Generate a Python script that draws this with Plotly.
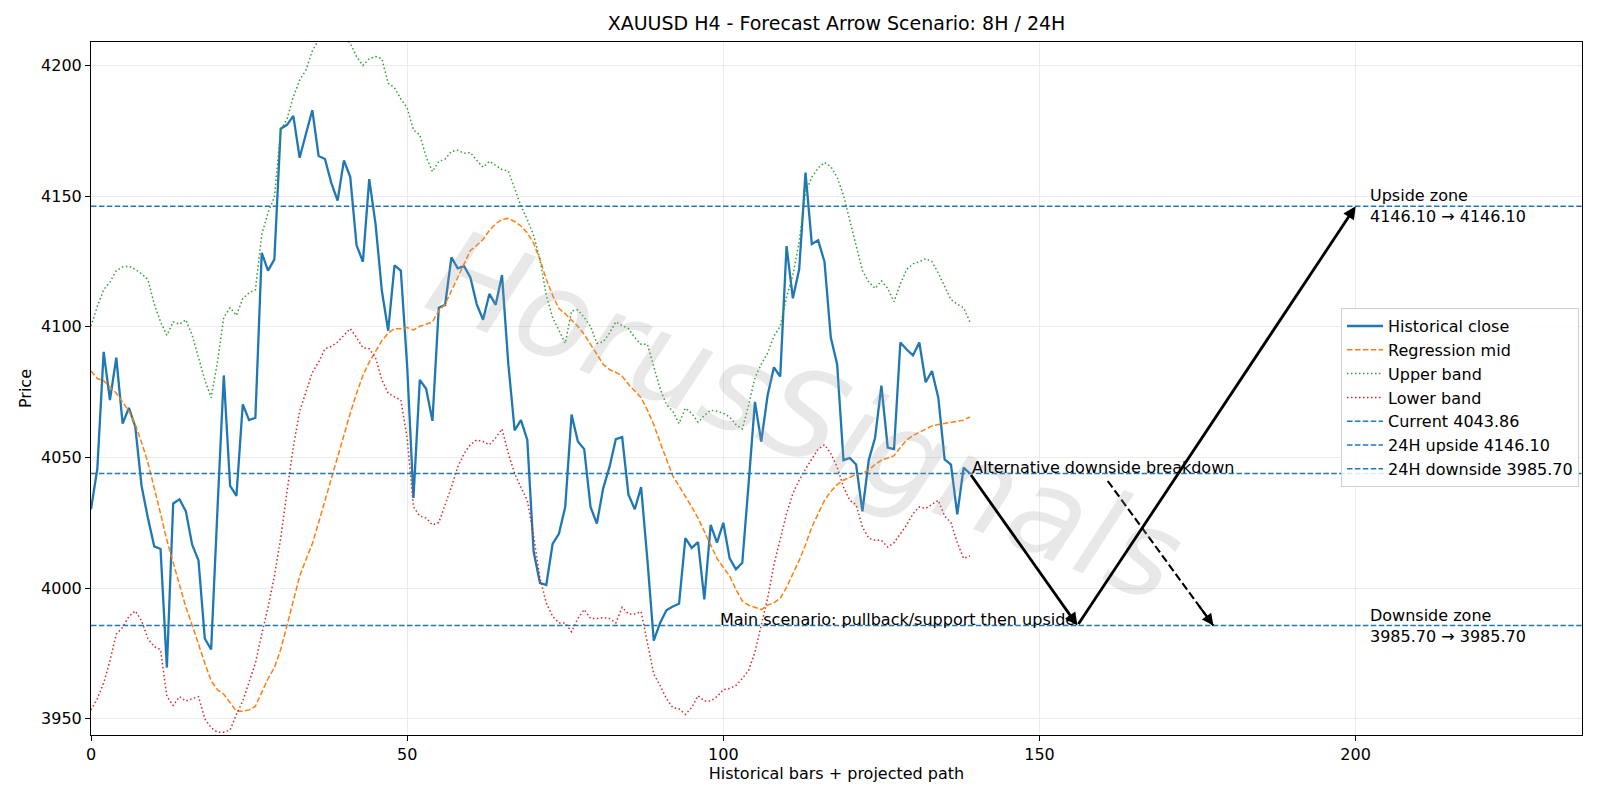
import plotly.graph_objects as go

TITLE = "XAUUSD H4 - Forecast Arrow Scenario: 8H / 24H"
X_TITLE = "Historical bars + projected path"
Y_TITLE = "Price"
WATERMARK = "HorusSignals"

close = [4030.2, 4045.6, 4090.4, 4072.0, 4088.2, 4063.0, 4069.0, 4061.8, 4039.1, 4026.8,
         4016.0, 4015.0, 3969.6, 4032.4, 4034.0, 4029.4, 4016.6, 4010.6, 3980.7, 3976.5,
         4030.0, 4081.4, 4039.1, 4035.3, 4070.3, 4064.3, 4065.2, 4128.3, 4121.5, 4125.8,
         4175.8, 4177.3, 4180.7, 4164.7, 4173.9, 4182.9, 4165.4, 4164.2, 4155.1, 4148.3,
         4163.7, 4157.3, 4131.2, 4124.9, 4156.5, 4139.4, 4113.8, 4098.5, 4123.5, 4121.5,
         4085.0, 4034.5, 4079.7, 4076.3, 4064.0, 4107.3, 4108.4, 4126.6, 4122.4, 4123.2,
         4118.9, 4108.7, 4102.7, 4112.6, 4108.4, 4119.8, 4085.7, 4060.4, 4064.3, 4056.7,
         4014.0, 4002.0, 4001.2, 4016.9, 4020.8, 4031.1, 4066.4, 4056.1, 4053.2, 4031.1,
         4024.7, 4038.2, 4046.4, 4057.0, 4057.8, 4035.8, 4030.2, 4038.7, 4010.6, 3979.9,
         3986.7, 3991.5, 3993.0, 3994.0, 4019.1, 4015.4, 4017.6, 3995.7, 4024.2, 4017.4,
         4025.0, 4011.4, 4007.2, 4009.7, 4040.0, 4071.3, 4056.1, 4073.7, 4084.5, 4081.0,
         4130.9, 4110.9, 4122.0, 4159.0, 4131.7, 4133.1, 4124.9, 4095.9, 4085.7, 4049.0,
         4049.8, 4047.3, 4029.4, 4049.0, 4057.5, 4077.5, 4053.8, 4053.2, 4094.0, 4091.3,
         4089.1, 4094.0, 4078.8, 4083.1, 4072.9, 4049.3, 4047.3, 4028.2, 4046.1, 4043.86]

reg_mid = [4083.1, 4080.2, 4079.4, 4077.1, 4074.6, 4071.2, 4067.7, 4062.6, 4055.8, 4048.1,
           4038.7, 4028.5, 4018.3, 4009.7, 4000.3, 3992.7, 3985.8, 3978.2, 3971.3, 3964.5,
           3961.1, 3959.4, 3956.0, 3952.9, 3952.9, 3953.4, 3954.8, 3960.2, 3965.4, 3969.6,
           3976.5, 3985.8, 3995.1, 4004.6, 4011.0, 4017.0, 4025.1, 4033.6, 4041.3, 4049.8,
           4059.2, 4066.9, 4074.6, 4081.4, 4086.5, 4090.8, 4094.7, 4097.6, 4099.3, 4099.3,
           4099.7, 4098.8, 4100.2, 4101.0, 4101.9, 4106.1, 4108.7, 4113.8, 4118.9, 4124.1,
           4129.2, 4131.2, 4133.4, 4136.9, 4139.4, 4141.1, 4141.5, 4140.3, 4138.6, 4136.0,
           4132.0, 4125.8, 4118.1, 4112.1, 4107.0, 4105.0, 4102.7, 4100.2, 4097.1, 4093.3,
           4089.1, 4085.7, 4083.6, 4082.6, 4081.1, 4078.0, 4075.4, 4072.9, 4068.1, 4062.6,
           4055.8, 4049.0, 4043.0, 4039.1, 4035.3, 4031.1, 4026.8, 4021.7, 4016.6, 4011.4,
           4008.0, 4004.6, 3999.5, 3995.1, 3993.5, 3992.8, 3991.8, 3993.5, 3994.4, 3996.1,
           4000.3, 4005.5, 4010.6, 4016.6, 4023.4, 4028.5, 4033.6, 4037.0, 4039.6, 4041.3,
           4042.5, 4043.5, 4043.9, 4045.2, 4047.3, 4049.0, 4049.8, 4050.7, 4053.8, 4056.7,
           4058.4, 4059.6, 4060.9, 4062.1, 4062.6, 4063.0, 4063.5, 4064.0, 4064.3, 4065.5]

upper_band = [4100.3, 4107.8, 4114.2, 4117.2, 4121.5, 4122.9, 4123.2, 4122.0, 4120.3, 4118.1,
              4108.7, 4101.9, 4096.8, 4101.9, 4101.0, 4102.7, 4096.8, 4088.2, 4079.7, 4072.9,
              4086.5, 4103.6, 4107.3, 4104.4, 4110.8, 4113.0, 4114.2, 4135.2, 4143.7, 4149.7,
              4175.3, 4179.5, 4188.1, 4194.4, 4198.3, 4205.6, 4210.0, 4214.0, 4215.0, 4213.0,
              4211.0, 4208.5, 4203.4, 4200.0, 4202.6, 4203.4, 4202.6, 4193.2, 4191.5, 4187.2,
              4183.8, 4175.3, 4173.5, 4165.0, 4159.4, 4163.3, 4164.2, 4167.1, 4167.6, 4166.4,
              4166.7, 4163.7, 4161.1, 4163.3, 4161.6, 4160.2, 4159.6, 4153.1, 4146.2, 4141.1,
              4135.0, 4125.8, 4112.1, 4103.6, 4098.5, 4093.7, 4106.1, 4106.5, 4103.6, 4100.2,
              4093.7, 4094.2, 4097.6, 4101.9, 4100.5, 4099.3, 4095.9, 4093.3, 4093.3, 4084.8,
              4076.3, 4070.3, 4067.7, 4063.0, 4068.9, 4066.9, 4063.5, 4066.1, 4068.1, 4067.7,
              4066.9, 4065.5, 4062.6, 4060.9, 4070.0, 4080.5, 4085.7, 4089.9, 4096.4, 4100.2,
              4111.3, 4119.8, 4132.6, 4151.4, 4157.3, 4160.8, 4162.9, 4161.3, 4157.3, 4150.4,
              4141.1, 4130.9, 4121.5, 4117.2, 4114.7, 4117.6, 4114.7, 4109.6, 4116.4, 4122.0,
              4124.1, 4124.9, 4126.1, 4124.9, 4120.6, 4115.5, 4110.4, 4108.7, 4107.3, 4101.9]

lower_band = [3953.4, 3957.7, 3963.7, 3972.2, 3982.4, 3985.0, 3989.2, 3991.3, 3987.5, 3980.7,
              3977.6, 3976.5, 3958.5, 3955.1, 3958.5, 3956.8, 3957.7, 3958.5, 3950.0, 3946.6,
              3944.9, 3944.9, 3945.7, 3951.7, 3956.8, 3963.7, 3971.3, 3982.4, 3992.7, 4004.6,
              4019.1, 4037.0, 4054.1, 4067.7, 4075.0, 4082.5, 4086.5, 4091.6, 4092.5, 4094.2,
              4096.8, 4099.3, 4095.9, 4092.0, 4091.6, 4088.2, 4079.7, 4074.6, 4073.2, 4072.0,
              4057.5, 4031.1, 4027.6, 4026.8, 4024.2, 4025.1, 4031.9, 4038.7, 4046.4, 4051.5,
              4054.9, 4056.7, 4056.1, 4054.9, 4057.5, 4060.9, 4051.5, 4043.9, 4038.5, 4033.6,
              4020.0, 4003.8, 3994.4, 3989.2, 3986.7, 3986.7, 3983.3, 3988.4, 3991.8, 3988.4,
              3988.4, 3988.7, 3988.4, 3986.7, 3992.7, 3990.1, 3990.1, 3991.0, 3979.0, 3967.1,
              3962.8, 3957.7, 3954.3, 3953.8, 3951.7, 3954.3, 3958.8, 3956.8, 3956.8, 3958.5,
              3961.1, 3961.6, 3962.8, 3965.4, 3968.5, 3975.5, 3985.8, 3996.1, 4008.9, 4018.3,
              4028.5, 4036.2, 4041.3, 4045.6, 4049.3, 4053.2, 4054.9, 4051.5, 4046.4, 4038.7,
              4033.6, 4031.9, 4023.4, 4019.1, 4018.3, 4018.3, 4015.7, 4017.4, 4020.8, 4024.2,
              4028.5, 4031.1, 4030.5, 4031.9, 4033.6, 4027.6, 4025.1, 4017.4, 4011.4, 4012.3]

bars = list(range(len(close)))

CURRENT = 4043.86
UPSIDE_24H = 4146.10
DOWNSIDE_24H = 3985.70

# projected scenario paths (bar index, price)
main_path_x = [139, 156, 200]
main_path_y = [CURRENT, DOWNSIDE_24H, UPSIDE_24H]
alt_path_x = [160.8, 177.5]
alt_path_y = [4041.0, DOWNSIDE_24H]
zone_label_x = 202

X_RANGE = [0, 235.8]
Y_RANGE = [3943.8, 4209.0]
x_ticks = [0, 50, 100, 150, 200]
y_ticks = [3950, 4000, 4050, 4100, 4150, 4200]

BLUE = "#1f77b4"
ORANGE = "#ff7f0e"
GREEN = "#2ca02c"
RED = "#d62728"
FONT = "DejaVu Sans"
FS = 16

fig = go.Figure()

fig.add_trace(go.Scatter(x=bars, y=close, mode="lines", name="Historical close",
                         line=dict(color=BLUE, width=2.3)))
fig.add_trace(go.Scatter(x=bars, y=reg_mid, mode="lines", name="Regression mid",
                         line=dict(color=ORANGE, width=1.5, dash="5.5px,2.4px")))
fig.add_trace(go.Scatter(x=bars, y=upper_band, mode="lines", name="Upper band",
                         line=dict(color=GREEN, width=1.5, dash="1.5px,2.5px")))
fig.add_trace(go.Scatter(x=bars, y=lower_band, mode="lines", name="Lower band",
                         line=dict(color=RED, width=1.5, dash="1.5px,2.5px")))

for val, label in [(CURRENT, f"Current {CURRENT:.2f}"),
                   (UPSIDE_24H, f"24H upside {UPSIDE_24H:.2f}"),
                   (DOWNSIDE_24H, f"24H downside {DOWNSIDE_24H:.2f}")]:
    fig.add_trace(go.Scatter(x=X_RANGE, y=[val, val], mode="lines", name=label,
                             line=dict(color=BLUE, width=1.5, dash="5.5px,2.4px")))

# dashed alternative path line
fig.add_trace(go.Scatter(x=alt_path_x, y=alt_path_y, mode="lines", showlegend=False,
                         line=dict(color="black", width=2.1, dash="8px,3.5px"), hoverinfo="skip"))

annotations = []
# watermark
annotations.append(dict(x=113, y=4066, xref="x", yref="y", text=WATERMARK, showarrow=False,
                        textangle=22, font=dict(family=FONT, size=122, color="rgba(160,160,160,0.24)",
                                                style="italic")))
# main path arrows
for i in range(len(main_path_x) - 1):
    annotations.append(dict(x=main_path_x[i + 1], y=main_path_y[i + 1], ax=main_path_x[i], ay=main_path_y[i],
                            xref="x", yref="y", axref="x", ayref="y", text="", showarrow=True,
                            arrowhead=2, arrowsize=0.9, arrowwidth=2.8, arrowcolor="black", standoff=0))
# alt arrow head
dx = alt_path_x[1] - alt_path_x[0]
dy = alt_path_y[1] - alt_path_y[0]
annotations.append(dict(x=alt_path_x[1], y=alt_path_y[1], ax=alt_path_x[1] - 0.15 * dx,
                        ay=alt_path_y[1] - 0.15 * dy, xref="x", yref="y", axref="x", ayref="y",
                        text="", showarrow=True, arrowhead=2, arrowsize=1.1, arrowwidth=2.1,
                        arrowcolor="black", standoff=0))
# texts
annotations.append(dict(x=main_path_x[0], y=CURRENT, xref="x", yref="y",
                        text="Alternative downside breakdown", showarrow=False,
                        xanchor="left", yanchor="bottom", yshift=-5,
                        font=dict(family=FONT, size=FS, color="black")))
annotations.append(dict(x=main_path_x[1], y=DOWNSIDE_24H, xref="x", yref="y",
                        text="Main scenario: pullback/support then upside", showarrow=False,
                        xanchor="right", yanchor="bottom", yshift=-5,
                        font=dict(family=FONT, size=FS, color="black")))
annotations.append(dict(x=zone_label_x, y=UPSIDE_24H, xref="x", yref="y",
                        text=f"Upside zone<br>{UPSIDE_24H:.2f} → {UPSIDE_24H:.2f}", showarrow=False,
                        xanchor="left", yanchor="middle", align="left",
                        font=dict(family=FONT, size=FS, color="black")))
annotations.append(dict(x=zone_label_x, y=DOWNSIDE_24H, xref="x", yref="y",
                        text=f"Downside zone<br>{DOWNSIDE_24H:.2f} → {DOWNSIDE_24H:.2f}", showarrow=False,
                        xanchor="left", yanchor="middle", align="left",
                        font=dict(family=FONT, size=FS, color="black")))

axis_common = dict(showline=True, linecolor="black", linewidth=1.1, mirror=True,
                   ticks="outside", ticklen=5, tickwidth=1.1, tickcolor="black",
                   showgrid=True, gridcolor="#ebebeb", gridwidth=1, zeroline=False,
                   tickfont=dict(family=FONT, size=FS, color="black"))

fig.update_layout(
    width=1600, height=800,
    margin=dict(l=91, r=18, t=42, b=65),
    paper_bgcolor="white", plot_bgcolor="white",
    font=dict(family=FONT, size=FS, color="black"),
    title=dict(text=TITLE, x=0.5, xref="paper", xanchor="center", y=0.971, yanchor="middle",
               font=dict(family=FONT, size=19, color="black")),
    xaxis=dict(range=X_RANGE, tickvals=x_ticks, title=dict(text=X_TITLE, standoff=2,
               font=dict(family=FONT, size=FS)), **axis_common),
    yaxis=dict(range=Y_RANGE, tickvals=y_ticks, title=dict(text=Y_TITLE, standoff=5,
               font=dict(family=FONT, size=FS)), **axis_common),
    legend=dict(x=0.998, y=0.616, xanchor="right", yanchor="top",
                bgcolor="rgba(255,255,255,0.85)", bordercolor="#d0d0d0", borderwidth=1,
                font=dict(family=FONT, size=FS, color="black"), tracegroupgap=0,
                itemwidth=36),
    annotations=annotations,
    showlegend=True,
)

fig.write_html("out.html")
